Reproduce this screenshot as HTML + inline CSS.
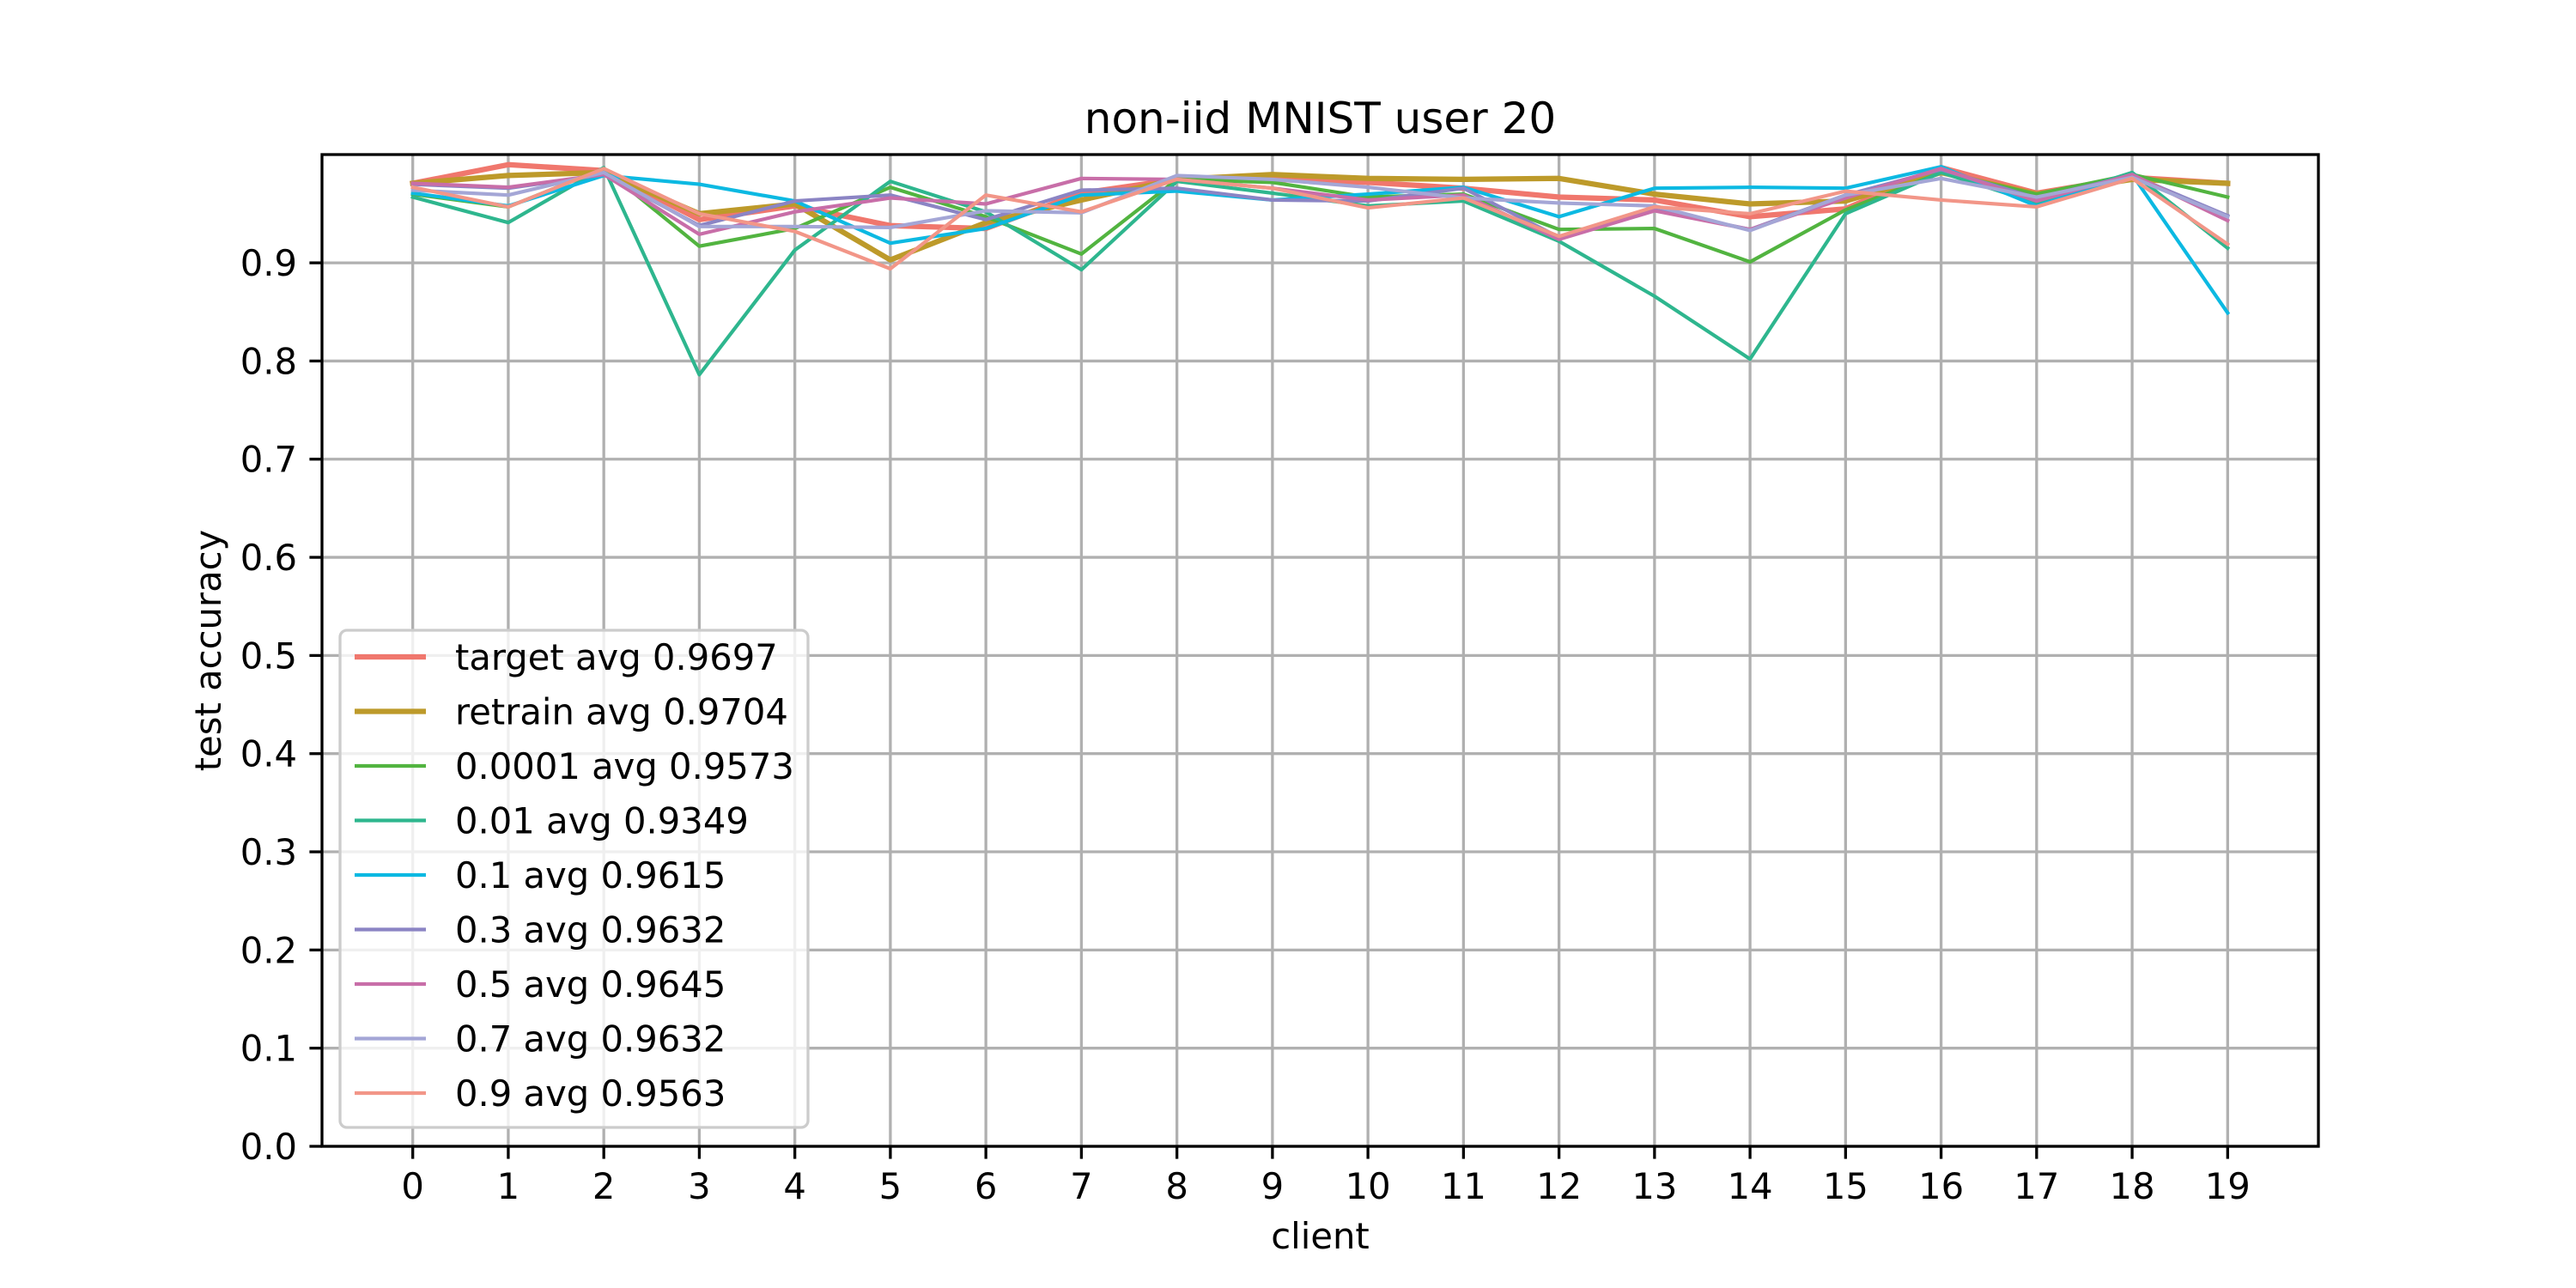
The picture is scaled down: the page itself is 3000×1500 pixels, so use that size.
<!DOCTYPE html>
<html><head><meta charset="utf-8"><style>
html,body{margin:0;padding:0;background:#fff;}
svg{display:block;}
text{font-family:"DejaVu Sans","Liberation Sans",sans-serif;fill:#000;}
</style></head><body>
<svg id="chart" width="3000" height="1500" viewBox="0 0 3000 1500" xmlns="http://www.w3.org/2000/svg">
<rect width="3000" height="1500" fill="#fff"/>
<g id="grid"></g><g id="lines"></g><g id="axes"></g><g id="legend"></g>
</svg>
<script>
const clients = [0,1,2,3,4,5,6,7,8,9,10,11,12,13,14,15,16,17,18,19];
const yTicks = [0,0.1,0.2,0.3,0.4,0.5,0.6,0.7,0.8,0.9];
const seriesNames = ["target avg 0.9697","retrain avg 0.9704","0.0001 avg 0.9573","0.01 avg 0.9349","0.1 avg 0.9615","0.3 avg 0.9632","0.5 avg 0.9645","0.7 avg 0.9632","0.9 avg 0.9563"];
const target  = [0.981,1.000,0.994,0.944,0.958,0.938,0.935,0.971,0.985,0.985,0.982,0.976,0.967,0.964,0.947,0.955,0.997,0.971,0.987,0.981];
const retrain = [0.981,0.989,0.992,0.950,0.960,0.903,0.941,0.964,0.985,0.990,0.986,0.985,0.986,0.970,0.960,0.963,0.992,0.970,0.985,0.981];
const s0001   = [0.970,0.957,0.996,0.917,0.935,0.977,0.947,0.909,0.985,0.982,0.967,0.970,0.934,0.935,0.901,0.954,0.992,0.970,0.990,0.967];
const s001    = [0.967,0.941,0.997,0.786,0.913,0.983,0.952,0.893,0.983,0.971,0.958,0.963,0.922,0.866,0.802,0.950,0.992,0.961,0.992,0.915];
const s01     = [0.971,0.958,0.989,0.980,0.963,0.920,0.935,0.969,0.973,0.964,0.970,0.977,0.947,0.976,0.977,0.976,0.998,0.958,0.990,0.849];
const s03     = [0.980,0.976,0.990,0.938,0.963,0.969,0.944,0.974,0.976,0.964,0.963,0.976,0.926,0.954,0.934,0.969,0.995,0.966,0.989,0.948];
const s05     = [0.981,0.977,0.990,0.929,0.952,0.966,0.960,0.986,0.985,0.976,0.964,0.969,0.924,0.953,0.934,0.966,0.996,0.963,0.990,0.943];
const s07     = [0.974,0.969,0.992,0.937,0.937,0.936,0.953,0.951,0.989,0.985,0.977,0.966,0.961,0.958,0.933,0.969,0.986,0.967,0.987,0.947];
const s09     = [0.977,0.957,0.996,0.950,0.932,0.894,0.969,0.952,0.985,0.976,0.956,0.966,0.927,0.957,0.950,0.973,0.964,0.957,0.986,0.919];
const allSeries = [target,retrain,s0001,s001,s01,s03,s05,s07,s09];
const colors = ["#f0776d","#bd9a2a","#52b440","#2eb68e","#0cb9e2","#8b84c4","#c86ea8","#a4a6d6","#f29688"];
const widths = [6.25,6.25,4.17,4.17,4.17,4.17,4.17,4.17,4.17];
const seriesKeys = ["target","retrain","0.0001","0.01","0.1","0.3","0.5","0.7","0.9"];

const L=375,R=2700,T=180,B=1335;
const xMin=-0.95,xMax=19.95,yMin=0,yMax=1.0103;
function xs(v){return L+(v-xMin)/(xMax-xMin)*(R-L);}
function ys(v){return B-(v-yMin)/(yMax-yMin)*(B-T);}
const NS="http://www.w3.org/2000/svg";
function mk(tag,attrs,parent){const e=document.createElementNS(NS,tag);for(const k in attrs)e.setAttribute(k,attrs[k]);parent.appendChild(e);return e;}
const grid=document.getElementById('grid'),lines=document.getElementById('lines'),axes=document.getElementById('axes'),legend=document.getElementById('legend');

clients.forEach(c=>{
  const g=mk('line',{x1:xs(c),x2:xs(c),y1:T,y2:B,stroke:'#b0b0b0','stroke-width':3.3},grid);
  
  
  const t=mk('line',{x1:xs(c),x2:xs(c),y1:B,y2:B+14.6,stroke:'#000','stroke-width':3.3},axes);
  
  
  const lb=mk('text',{x:xs(c),y:1396,'font-size':41.7,'text-anchor':'middle'},axes);
  lb.textContent=String(c);
  
  
});
yTicks.forEach(v=>{
  const g=mk('line',{x1:L,x2:R,y1:ys(v),y2:ys(v),stroke:'#b0b0b0','stroke-width':3.3},grid);
  
  
  const t=mk('line',{x1:L-14.6,x2:L,y1:ys(v),y2:ys(v),stroke:'#000','stroke-width':3.3},axes);
  
  
  const lb=mk('text',{x:346,y:ys(v)+15,'font-size':41.7,'text-anchor':'end'},axes);
  lb.textContent=v.toFixed(1);
  
  
});
allSeries.forEach((s,i)=>{
  const pts=s.map((v,j)=>xs(clients[j]).toFixed(1)+','+ys(v).toFixed(1)).join(' ');
  const p=mk('polyline',{points:pts,fill:'none',stroke:colors[i],'stroke-width':widths[i],'stroke-linejoin':'round','stroke-linecap':'square'},lines);
  
  
});
const frame=mk('rect',{x:L,y:T,width:R-L,height:B-T,fill:'none',stroke:'#000','stroke-width':3.3},axes);


const title=mk('text',{x:(L+R)/2,y:155,'font-size':50,'text-anchor':'middle'},axes);
title.textContent='non-iid MNIST user 20';


const xl=mk('text',{x:(L+R)/2,y:1454,'font-size':41.7,'text-anchor':'middle'},axes);
xl.textContent='client';


const yl=mk('text',{x:0,y:0,'font-size':41.7,'text-anchor':'middle',transform:'translate(257,'+((T+B)/2)+') rotate(-90)'},axes);
yl.textContent='test accuracy';



const lgT=734,lgB=1313,lgL=396,lgR=941;
const box=mk('rect',{x:lgL,y:lgT,width:lgR-lgL,height:lgB-lgT,rx:8,fill:'#fff','fill-opacity':0.8,stroke:'#cccccc','stroke-width':3.3},legend);


seriesNames.forEach((n,i)=>{
  const cy=765+i*63.5;
  const g=mk('g',{},legend);
  
  
  mk('line',{x1:413,x2:496,y1:cy,y2:cy,stroke:colors[i],'stroke-width':widths[i]},g);
  const t=mk('text',{x:530,y:cy+15,'font-size':41.7},g);
  t.textContent=n;
});
</script>
</body></html>
